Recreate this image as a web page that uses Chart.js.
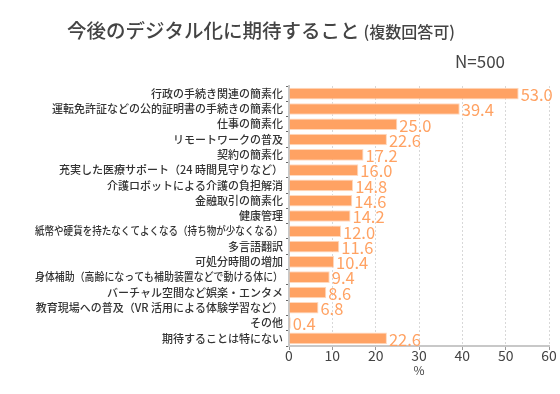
<!DOCTYPE html>
<html><head><meta charset="utf-8">
<script src="https://cdn.jsdelivr.net/npm/chart.js@4"></script>
<style>html,body{margin:0;padding:0;background:#fff;}canvas{display:block;}</style>
</head><body>
<canvas id="c" width="560" height="394"></canvas>
<script>
const categories = [
  "行政の手続き関連の簡素化",
  "運転免許証などの公的証明書の手続きの簡素化",
  "仕事の簡素化",
  "リモートワークの普及",
  "契約の簡素化",
  "充実した医療サポート（24 時間見守りなど）",
  "介護ロボットによる介護の負担解消",
  "金融取引の簡素化",
  "健康管理",
  "紙幣や硬貨を持たなくてよくなる（持ち物が少なくなる）",
  "多言語翻訳",
  "可処分時間の増加",
  "身体補助（高齢になっても補助装置などで動ける体に）",
  "バーチャル空間など娯楽・エンタメ",
  "教育現場への普及（VR 活用による体験学習など）",
  "その他",
  "期待することは特にない"
];
const values = [53.0, 39.4, 25.0, 22.6, 17.2, 16.0, 14.8, 14.6, 14.2, 12.0, 11.6, 10.4, 9.4, 8.6, 6.8, 0.4, 22.6];
const xTicks = [0, 10, 20, 30, 40, 50, 60];
const titleMain = "今後のデジタル化に期待すること";
const titleSub = "(複数回答可)";
const sampleNote = "N=500";
const axisTitle = "%";

const FONT = "'Noto Sans CJK JP', 'Noto Sans', sans-serif";

const extras = {
  id: 'extras',
  afterDatasetsDraw(chart) {
    const ctx = chart.ctx;
    const meta = chart.getDatasetMeta(0);
    ctx.save();
    ctx.fillStyle = '#FFA263';
    ctx.font = "16.5px " + FONT;
    ctx.textBaseline = 'middle';
    ctx.textAlign = 'left';
    meta.data.forEach((bar, i) => {
      ctx.fillText(values[i].toFixed(1), bar.x + 2, bar.y + 1);
    });
    // y-axis category labels
    const ys = chart.scales.y;
    ctx.fillStyle = '#333';
    ctx.font = "500 11px " + FONT;
    ctx.textAlign = 'right';
    ctx.textBaseline = 'middle';
    categories.forEach((lab, i) => {
      const y = ys.getPixelForTick(i);
      ctx.fillText(lab, ys.right - 6, y, 248);
    });
    ctx.restore();
  },
  afterDraw(chart) {
    const ctx = chart.ctx;
    ctx.save();
    ctx.fillStyle = '#444';
    ctx.textBaseline = 'alphabetic';
    ctx.textAlign = 'left';
    ctx.font = "500 19.5px " + FONT;
    const w1 = ctx.measureText(titleMain).width;
    const x0 = 67;
    ctx.fillText(titleMain, x0, 38);
    ctx.font = "500 16px " + FONT;
    ctx.fillText(titleSub, x0 + w1 + 4, 38);
    ctx.font = "17px " + FONT;
    ctx.textAlign = 'right';
    ctx.fillText(sampleNote, 505, 68);
    ctx.restore();
  }
};

new Chart(document.getElementById('c'), {
  type: 'bar',
  data: {
    labels: categories,
    datasets: [{
      data: values,
      backgroundColor: '#FFA263',
      borderColor: '#FFD9BF',
      borderWidth: 1,
      barPercentage: 1,
      categoryPercentage: 0.76
    }]
  },
  options: {
    indexAxis: 'y',
    responsive: false,
    animation: false,
    devicePixelRatio: 1,
    layout: { padding: { top: 86, right: 11, bottom: 16, left: 0 } },
    plugins: { legend: { display: false }, tooltip: { enabled: false }, title: { display: false } },
    scales: {
      x: {
        min: 0, max: 60,
        afterBuildTicks(scale) { scale.ticks = xTicks.map(v => ({ value: v })); },
        afterFit(scale) { scale.height = 32; },
        grid: { color: '#D8D8D8', lineWidth: 1, drawTicks: true, tickLength: 4, tickColor: '#999', tickBorderDash: [] },
        border: { display: true, color: '#C8C8C8', width: 2, dash: [2, 2] },
        ticks: { color: '#444', font: { family: FONT, size: 14 }, padding: -3 },
        title: { display: true, text: axisTitle, color: '#444', font: { family: FONT, size: 12 }, padding: { top: 0, bottom: 0 } }
      },
      y: {
        afterFit(scale) { scale.width = 289; },
        grid: { display: true, drawOnChartArea: false, drawTicks: true, tickLength: 3, tickColor: '#666' },
        border: { display: true, color: '#C8C8C8', width: 2 },
        ticks: { display: false }
      }
    }
  },
  plugins: [extras]
});
</script>
</body></html>
